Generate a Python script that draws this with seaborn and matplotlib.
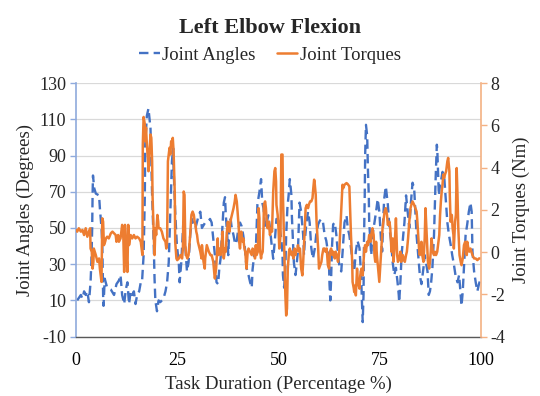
import matplotlib
matplotlib.use("Agg")
import matplotlib.pyplot as plt
import seaborn as sns
import pandas as pd

# Elbow angle over the task (% of duration, degrees)
angle_pct = [0.3, 1.2, 1.6, 2.0, 2.4, 2.8, 3.2, 3.6, 3.8, 4.0, 4.1, 4.2, 4.5, 4.9, 5.7, 5.9,
             6.3, 6.5, 6.7, 6.8, 7.1, 7.7, 8.6, 9.4, 10.0, 10.6, 11.0, 11.4, 11.9, 12.3, 12.7,
             13.1, 13.5, 13.9, 14.3, 14.7, 15.1, 15.6, 16.0,
             16.3, 16.7, 17.0, 17.1, 17.5, 17.9, 18.4, 18.6, 18.8, 19.2, 19.4, 19.6, 20.0, 20.4,
             20.8, 21.2, 21.6, 22.1, 22.5, 22.9, 23.3, 23.7, 24.0, 24.1, 24.5, 24.9, 25.4, 25.6,
             26.0, 26.5, 26.8, 27.4, 27.8, 28.2, 28.6, 29.5, 30.3, 30.7, 31.1, 31.9, 32.8,
             33.1, 33.5, 33.9, 34.3, 34.7, 35.1, 35.4, 35.7, 36.2, 36.5, 36.8, 37.0, 37.4, 37.6,
             37.9, 38.2, 38.4, 38.9, 39.3, 39.7, 40.1, 40.5, 40.9, 41.3, 41.7, 42.1, 42.6, 43.0,
             43.4, 43.6, 44.0, 44.4, 44.8, 45.3, 45.7, 46.0, 46.3, 46.7, 47.1, 47.5, 47.9, 48.3,
             48.7, 49.1, 49.5, 50.0,
             50.3, 50.7, 51.0, 51.1, 51.4, 51.7, 51.9, 52.2, 52.5, 52.8, 53.2, 53.3, 53.6, 53.8,
             54.2, 54.4, 54.8, 55.2, 55.6, 56.1, 56.3, 56.5, 56.9, 57.3, 57.7, 58.1, 58.5, 59.0,
             59.3, 59.8, 60.2, 60.6, 61.0, 61.4, 61.8, 62.2, 62.5, 62.6, 62.8, 63.0, 63.2, 63.5,
             63.9, 64.3, 64.7, 65.1, 65.5, 65.9, 66.3, 66.8,
             67.1, 67.5, 67.9, 68.3, 68.7, 69.1, 69.5, 70.0, 70.4, 70.6, 70.8, 71.0, 71.1, 71.3,
             71.4, 71.6, 71.9, 72.1, 72.3, 72.4, 72.7, 72.9, 73.2, 73.7, 74.1, 74.5, 74.9, 75.3,
             75.6, 75.9, 76.1, 76.5, 77.0, 77.4, 77.8, 78.2, 78.6, 79.0, 79.4, 79.7, 79.8, 80.1,
             80.4, 80.8, 81.1, 81.5, 81.9, 82.3, 82.7, 83.1, 83.5,
             83.7, 84.1, 84.5, 84.9, 85.3, 85.8, 86.1, 86.4, 86.8, 87.1, 87.4, 87.7, 88.0, 88.2,
             88.4, 88.6, 88.8, 89.1, 89.2, 89.4, 89.6, 89.9, 90.2, 90.5, 90.9, 91.3, 91.7, 92.1,
             92.5, 92.9, 93.3, 93.7, 94.2, 94.6, 95.0, 95.2, 95.5, 95.8, 96.2, 96.6, 97.0, 97.4,
             97.7, 97.9, 98.3, 98.7, 99.1, 99.5, 99.9]
angle_deg = [10, 13, 11, 15, 13, 15, 9, 20, 31, 50, 68, 79, 72, 69, 68, 61,
             50, 41, 13, 7, 22, 17, 16, 13, 19, 21, 24, 13, 8, 16, 20,
             8, 15, 13, 15, 8, 13, 15, 20,
             20, 35, 68, 96, 112, 116, 105, 87, 68, 41, 22, 10, 4, 10,
             9, 10, 11, 15, 20, 31, 59, 87, 94, 83, 59, 41, 30, 20,
             31, 53, 46, 26, 31, 46, 55, 50, 57, 59, 50, 53, 54,
             55, 53, 44, 35, 20, 19, 28, 33, 53, 64, 67, 57, 44, 35,
             53, 55, 51, 46, 41, 43, 50, 53, 51, 46, 39, 28, 24, 20,
             17, 27, 35, 37, 63, 70, 77, 64, 61, 50, 53, 57, 50, 41,
             33, 43, 55, 54,
             50, 44, 35, 24, 17, 28, 46, 61, 68, 77, 68, 57, 41, 31,
             24, 28, 37, 64, 59, 46, 35, 43, 53, 59, 53, 39, 33, 39,
             46, 52, 54, 55, 53, 46, 43, 37, 28, 19, 10, 22, 39, 52,
             53, 46, 35, 28, 26, 39, 53, 57,
             50, 46, 39, 31, 26, 37, 43, 39, 24, 10, -2, 13, 41, 68,
             90, 107, 101, 81, 68, 53, 43, 35, 46, 53, 59, 66, 59, 44,
             37, 57, 66, 73, 63, 50, 43, 31, 24, 28, 20, 13, 9, 20,
             35, 46, 53, 68, 59, 50, 64, 75, 72,
             63, 46, 35, 24, 19, 28, 35, 31, 26, 13, 15, 20, 28, 37,
             46, 61, 77, 96, 94, 81, 68, 74, 77, 81, 79, 66, 53, 46,
             41, 35, 30, 24, 20, 24, 13, 7, 15, 28, 46, 52, 59, 64,
             59, 37, 26, 20, 15, 19, 22]

# Elbow torque over the task (% of duration, Nm)
torque_pct = [0.0, 0.3, 0.7, 1.2, 1.6, 2.0, 2.4, 2.8, 3.2, 3.5, 3.6, 3.9, 4.1, 4.3, 4.4, 4.9,
              5.3, 5.7, 5.9, 6.3, 6.5, 6.7, 6.9, 7.2, 7.4, 7.7, 8.1, 8.6, 9.0, 9.4, 9.8, 10.0,
              10.4, 10.6, 11.0, 11.4, 11.7, 11.9, 12.1, 12.3, 12.7, 12.9, 13.1, 13.5, 13.9, 14.3,
              14.7, 15.1, 15.6, 16.0, 16.2, 16.4, 16.5, 16.7,
              17.0, 17.1, 17.3, 17.5, 17.8, 17.9, 18.1, 18.4, 18.6, 18.8, 18.9, 19.2, 19.4, 19.6,
              19.8, 20.1, 20.3, 20.4, 20.8, 21.2, 21.6, 22.1, 22.3, 22.5, 22.7, 22.9, 23.1, 23.3,
              23.5, 23.7, 23.9, 24.1, 24.4, 24.5, 24.8, 25.0, 25.4, 25.8, 26.2, 26.4, 26.6, 26.8,
              27.0, 27.2, 27.5, 27.8, 28.2, 28.5, 28.8, 29.1, 29.3, 29.5, 29.7, 29.9, 30.1, 30.3,
              30.7, 31.0, 31.1, 31.5, 31.8, 31.9, 32.3, 32.8, 33.2,
              33.5, 33.9, 34.2, 34.3, 34.6, 34.7, 35.0, 35.1, 35.4, 35.7, 36.0, 36.2, 36.4, 36.5,
              36.8, 37.0, 37.2, 37.5, 37.7, 37.9, 38.0, 38.3, 38.5, 38.9, 39.2, 39.4, 39.7, 39.9,
              40.2, 40.3, 40.5, 40.8, 40.9, 41.2, 41.3, 41.6, 41.8, 42.1, 42.4, 42.6, 43.0, 43.4,
              43.6, 44.0, 44.2, 44.4, 44.6, 44.9, 45.1, 45.3, 45.4, 45.7, 45.8, 46.1, 46.3, 46.4,
              46.7, 46.9, 47.1, 47.3, 47.6, 47.9, 48.2, 48.4, 48.7, 49.0, 49.2, 49.4, 49.5, 49.8,
              50.0, 50.2,
              50.3, 50.5, 50.7, 51.0, 51.1, 51.4, 51.5, 51.7, 51.9, 52.1, 52.3, 52.6, 52.8, 53.2,
              53.4, 53.7, 54.0, 54.2, 54.4, 54.7, 54.8, 55.1, 55.3, 55.6, 55.9, 56.1, 56.5, 56.7,
              57.0, 57.3, 57.5, 57.8, 58.1, 58.4, 58.6, 58.8, 58.9, 59.2, 59.4, 59.8, 60.0, 60.3,
              60.6, 60.8, 61.1, 61.4, 61.6, 61.9, 62.2, 62.5, 62.7, 63.0, 63.3, 63.5, 63.9, 64.1,
              64.4, 64.7, 65.0, 65.2, 65.5, 65.8, 66.0, 66.3, 66.8,
              67.1, 67.5, 67.7, 67.9, 68.2, 68.3, 68.6, 68.7, 69.0, 69.1, 69.4, 69.6, 70.0, 70.2,
              70.5, 70.8, 71.0, 71.2, 71.4, 71.6, 71.9, 72.1, 72.4, 72.7, 72.9, 73.2, 73.5, 73.7,
              73.9, 74.1, 74.3, 74.6, 74.9, 75.1, 75.4, 75.7, 76.0, 76.2, 76.5, 76.8, 77.0, 77.4,
              77.6, 77.9, 78.2, 78.4, 78.7, 79.0, 79.3, 79.5, 79.8, 80.1, 80.3, 80.7, 80.9, 81.2,
              81.5, 81.7, 82.0, 82.3, 82.6, 82.8, 83.1, 83.5,
              84.1, 84.3, 84.5, 84.7, 84.9, 85.3, 85.5, 85.8, 86.1, 86.3, 86.6, 86.9, 87.2, 87.4,
              87.6, 87.8, 88.1, 88.4, 88.6, 88.9, 89.2, 89.5, 89.7, 89.9, 90.1, 90.3, 90.5, 90.7,
              90.9, 91.1, 91.4, 91.7, 91.9, 92.2, 92.3, 92.5, 92.8, 93.0, 93.2, 93.3, 93.6, 93.8,
              94.0, 94.2, 94.4, 94.7, 95.0, 95.2, 95.5, 95.8, 96.1, 96.3, 96.5, 96.6, 96.9, 97.1,
              97.4, 97.9, 98.3, 98.7, 99.1, 99.5, 99.9]
torque_nm = [1.05, 0.97, 1.13, 0.97, 1.05, 0.81, 1.13, 0.73, 0.97, 1.13, 0.17, 0.02, -0.78, -0.46, 0.17, -0.14,
             -0.46, -0.30, -0.78, -1.41, 1.60, 1.44, 0.33, 0.49, 0.65, 0.73, 0.65, 0.89, 0.97, 0.89, 0.81, 0.49,
             0.81, 0.49, 0.65, 1.29, 0.65, -0.94, 1.29, 0.49, -0.94, 1.29, 0.33, 0.81, 0.65, 0.81,
             0.65, 0.73, 0.65, 0.49, 0.17, -0.14, 5.10, 6.40,
             6.05, 5.25, 5.89, 5.10, 4.30, 3.83, 4.62, 5.57, 5.41, 4.30, 2.71, 0.81, -0.14, 1.13,
             0.81, 1.76, 1.44, 1.13, 1.13, 0.97, 0.65, 0.49, 0.17, 0.49, 4.30, 4.62, 4.94, 4.62,
             5.25, 5.10, 5.41, 4.78, 2.71, 0.49, -0.30, -0.38, -0.30, -0.14, -0.30, 0.17, 2.87, 2.71,
             0.33, -0.14, -0.30, -0.14, 0.81, 1.76, 1.92, 1.76, 1.44, 1.29, 0.97, 0.81, 0.49, 0.33,
             0.02, -0.30, 0.33, -0.46, -0.78, -0.30, 0.33, 0.02, -0.14,
             -0.14, -0.46, -1.10, -1.25, -0.78, -0.46, 0.65, -0.14, 0.17, -0.14, 0.49, 0.97, -0.14, -0.30,
             0.17, 0.02, 0.81, 1.44, 1.13, 0.97, 1.29, 1.60, 1.76, 2.08, 2.40, 2.71, 2.40, 1.92,
             1.13, 0.49, 0.17, 0.97, 0.65, 0.49, 0.65, 0.17, 0.02, -0.78, 0.02, 0.17, 0.02, -0.14,
             0.17, 0.02, -0.30, 0.33, -0.14, 0.02, 2.08, 1.60, 0.17, -0.30, -0.14, 0.02, 1.13, 2.24,
             2.40, 2.08, 1.44, 1.13, 1.44, 0.81, 1.13, 0.97, 2.87, 3.83, 3.98, 3.35, 2.24, 1.76,
             1.13, 0.17,
             0.33, 0.81, 4.62, 4.62, 2.71, 0.33, -0.46, -2.05, -3.00, -2.68, -0.78, 0.02, 0.17, -0.14,
             0.02, -0.30, 0.17, -0.14, 0.02, 0.17, 0.33, 0.02, 0.17, -0.78, -1.10, -0.46, 1.13, 2.08,
             2.24, 2.08, 2.24, 2.40, 2.40, 2.56, 3.03, 3.43, 3.35, 2.71, 1.44, 0.17, -0.78, -0.62,
             -0.46, -0.14, 0.17, 0.17, 0.02, 0.17, -0.62, -0.78, 0.02, 0.17, -0.14, 0.02, -0.30, 0.02,
             -0.14, -0.46, 0.02, 0.81, 2.08, 3.19, 3.03, 3.19, 3.27,
             3.22, 3.11, 1.92, 0.81, -0.46, -1.41, -1.73, -1.89, -1.57, -2.05, -0.78, -1.41, -1.73, -1.10,
             -0.78, -1.10, -0.46, 0.17, 0.33, 0.02, 0.49, 0.33, 0.81, 0.49, 0.81, 1.13, 0.81, -0.14,
             -0.46, 0.49, -0.14, -0.78, -1.41, -0.78, 0.17, 1.13, 1.60, 1.92, 2.08, 1.76, 1.29, 1.44,
             1.13, 0.02, 0.65, -0.46, 0.33, 1.60, -0.14, -0.46, -0.30, 0.02, -0.46, -0.14, -0.30, -0.46,
             -0.14, 0.02, 0.65, 1.44, 2.08, 2.24, 2.40, 2.24,
             1.92, 1.44, 0.81, 0.17, -0.14, 0.49, -0.14, -0.46, 0.65, 2.08, 0.81, -0.46, -0.78, -0.46,
             0.02, 0.65, 0.02, -0.14, 0.02, -0.14, 0.02, 0.49, 0.81, 1.76, 2.40, 2.87, 3.19, 3.67,
             3.51, 3.67, 3.83, 4.30, 4.46, 3.83, 2.71, 1.44, 1.76, 1.13, 0.81, 0.17, 1.44, 1.76,
             3.98, 2.71, 1.13, -0.14, -0.46, -0.62, -0.30, 0.33, 0.49, 0.17, -0.14, 0.49, 0.17, 0.02,
             0.17, -0.14, -0.30, -0.30, -0.38, -0.30, -0.30]

x_ticks = [0, 25, 50, 75, 100]
angle_ticks = [-10, 10, 30, 50, 70, 90, 110, 130]
torque_ticks = [-4, -2, 0, 2, 4, 6, 8]

BLUE = "#4472C4"
ORANGE = "#ED7D31"

sns.set_style("white")
plt.rcParams["font.family"] = ["Liberation Serif", "DejaVu Serif"]
plt.rcParams["axes.unicode_minus"] = False

angles = pd.DataFrame({"pct": angle_pct, "deg": angle_deg})
torques = pd.DataFrame({"pct": torque_pct, "nm": torque_nm})

fig = plt.figure(figsize=(5.4, 3.96), dpi=100)
ax = fig.add_axes([0.1407, 0.150, 0.750, 0.640])
ax2 = ax.twinx()

sns.lineplot(data=angles, x="pct", y="deg", ax=ax, color=BLUE, lw=1.7,
             sort=False, estimator=None, label="Joint Angles")
ax.lines[0].set_dashes((4, 2.2))
sns.lineplot(data=torques, x="pct", y="nm", ax=ax2, color=ORANGE, lw=1.8,
             sort=False, estimator=None, label="Joint Torques")

ax.set_xlim(0, 100)
ax.set_ylim(-10, 130)
ax2.set_ylim(-4, 8)
ax.set_xticks(x_ticks)
ax.set_yticks(angle_ticks)
ax2.set_yticks(torque_ticks)

ax.yaxis.grid(True, color="#D9D9D9", lw=0.9)
ax.set_axisbelow(True)

for a in (ax, ax2):
    a.spines["top"].set_visible(False)
ax.spines["right"].set_visible(False)
ax2.spines["left"].set_visible(False)
ax2.spines["bottom"].set_visible(False)
ax.spines["left"].set_color("#8FAADC")
ax.spines["left"].set_linewidth(1.2)
ax2.spines["right"].set_color("#F4B183")
ax2.spines["right"].set_linewidth(1.2)
ax.spines["bottom"].set_color("#595959")
ax.spines["bottom"].set_linewidth(1.0)

ax.tick_params(axis="x", length=0, labelsize=13, pad=11, colors="#000000")
ax.tick_params(axis="y", length=4, width=1, color="#8FAADC", labelsize=13, pad=3)
ax2.tick_params(axis="y", length=4, width=1, color="#F4B183", labelsize=13, pad=3)

ax.set_xlabel("Task Duration (Percentage %)", fontsize=13.5, labelpad=5)
ax.set_ylabel("Joint Angles (Degrees)", fontsize=13.5, labelpad=4)
ax2.set_ylabel("Joint Torques (Nm)", fontsize=13.5, labelpad=5)

for a in (ax, ax2):
    leg = a.get_legend()
    if leg is not None:
        leg.remove()

handles = ax.get_lines()[:1] + ax2.get_lines()[:1]
fig.legend(handles, ["Joint Angles", "Joint Torques"], loc="center",
           bbox_to_anchor=(0.5, 0.86), ncol=2, frameon=False, fontsize=13.5,
           handlelength=1.1, handletextpad=0.15, columnspacing=1.1)

fig.suptitle("Left Elbow Flexion", fontsize=16, fontweight="bold", y=0.955)

fig.savefig("out.png", dpi=100)
